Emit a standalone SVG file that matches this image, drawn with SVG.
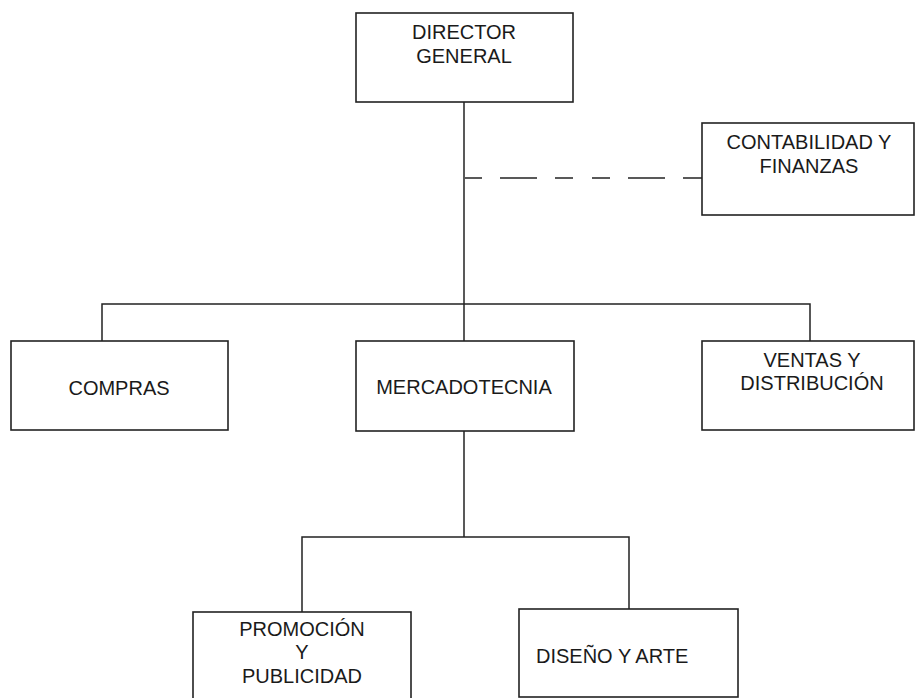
<svg xmlns="http://www.w3.org/2000/svg" width="916" height="698" viewBox="0 0 916 698">
<style>
.box{fill:#fff;stroke:#222;stroke-width:1.6}
.ln{fill:none;stroke:#222;stroke-width:1.5}
text{font-family:"Liberation Sans",Arial,sans-serif;font-size:20px;fill:#1a1a1a;text-anchor:middle}
</style>
<rect width="916" height="698" fill="#fff"/>
<g id="connectors">
<line class="ln" x1="464" y1="102" x2="464" y2="341"/>
<polyline class="ln" points="102,341 102,304 810,304 810,341"/>
<line class="ln" x1="464" y1="431" x2="464" y2="537"/>
<polyline class="ln" points="302,612 302,537 629,537 629,609"/>
<g class="ln">
<line x1="465" y1="178" x2="482" y2="178"/>
<line x1="500" y1="178" x2="537" y2="178"/>
<line x1="555" y1="178" x2="573" y2="178"/>
<line x1="592" y1="178" x2="610" y2="178"/>
<line x1="628" y1="178" x2="665" y2="178"/>
<line x1="683" y1="178" x2="702" y2="178"/>
</g>
</g>
<g id="director">
<rect class="box" x="356" y="13" width="217" height="89"/>
<text x="464" y="39">DIRECTOR</text>
<text x="464" y="63">GENERAL</text>
</g>
<g id="contabilidad">
<rect class="box" x="702" y="123" width="212" height="92"/>
<text x="809" y="149">CONTABILIDAD Y</text>
<text x="809" y="173">FINANZAS</text>
</g>
<g id="compras">
<rect class="box" x="11" y="341" width="217" height="89"/>
<text x="119" y="395">COMPRAS</text>
</g>
<g id="mercadotecnia">
<rect class="box" x="356" y="341" width="218" height="90"/>
<text x="464" y="394">MERCADOTECNIA</text>
</g>
<g id="ventas">
<rect class="box" x="702" y="341" width="212" height="89"/>
<text x="812" y="367">VENTAS Y</text>
<text x="812" y="390">DISTRIBUCIÓN</text>
</g>
<g id="promocion">
<rect class="box" x="193" y="612" width="218" height="95"/>
<text x="302" y="636">PROMOCIÓN</text>
<text x="302" y="659">Y</text>
<text x="302" y="683">PUBLICIDAD</text>
</g>
<g id="diseno">
<rect class="box" x="519" y="609" width="219" height="88"/>
<text x="536" y="663" style="text-anchor:start">DISEÑO Y ARTE</text>
</g>
</svg>
